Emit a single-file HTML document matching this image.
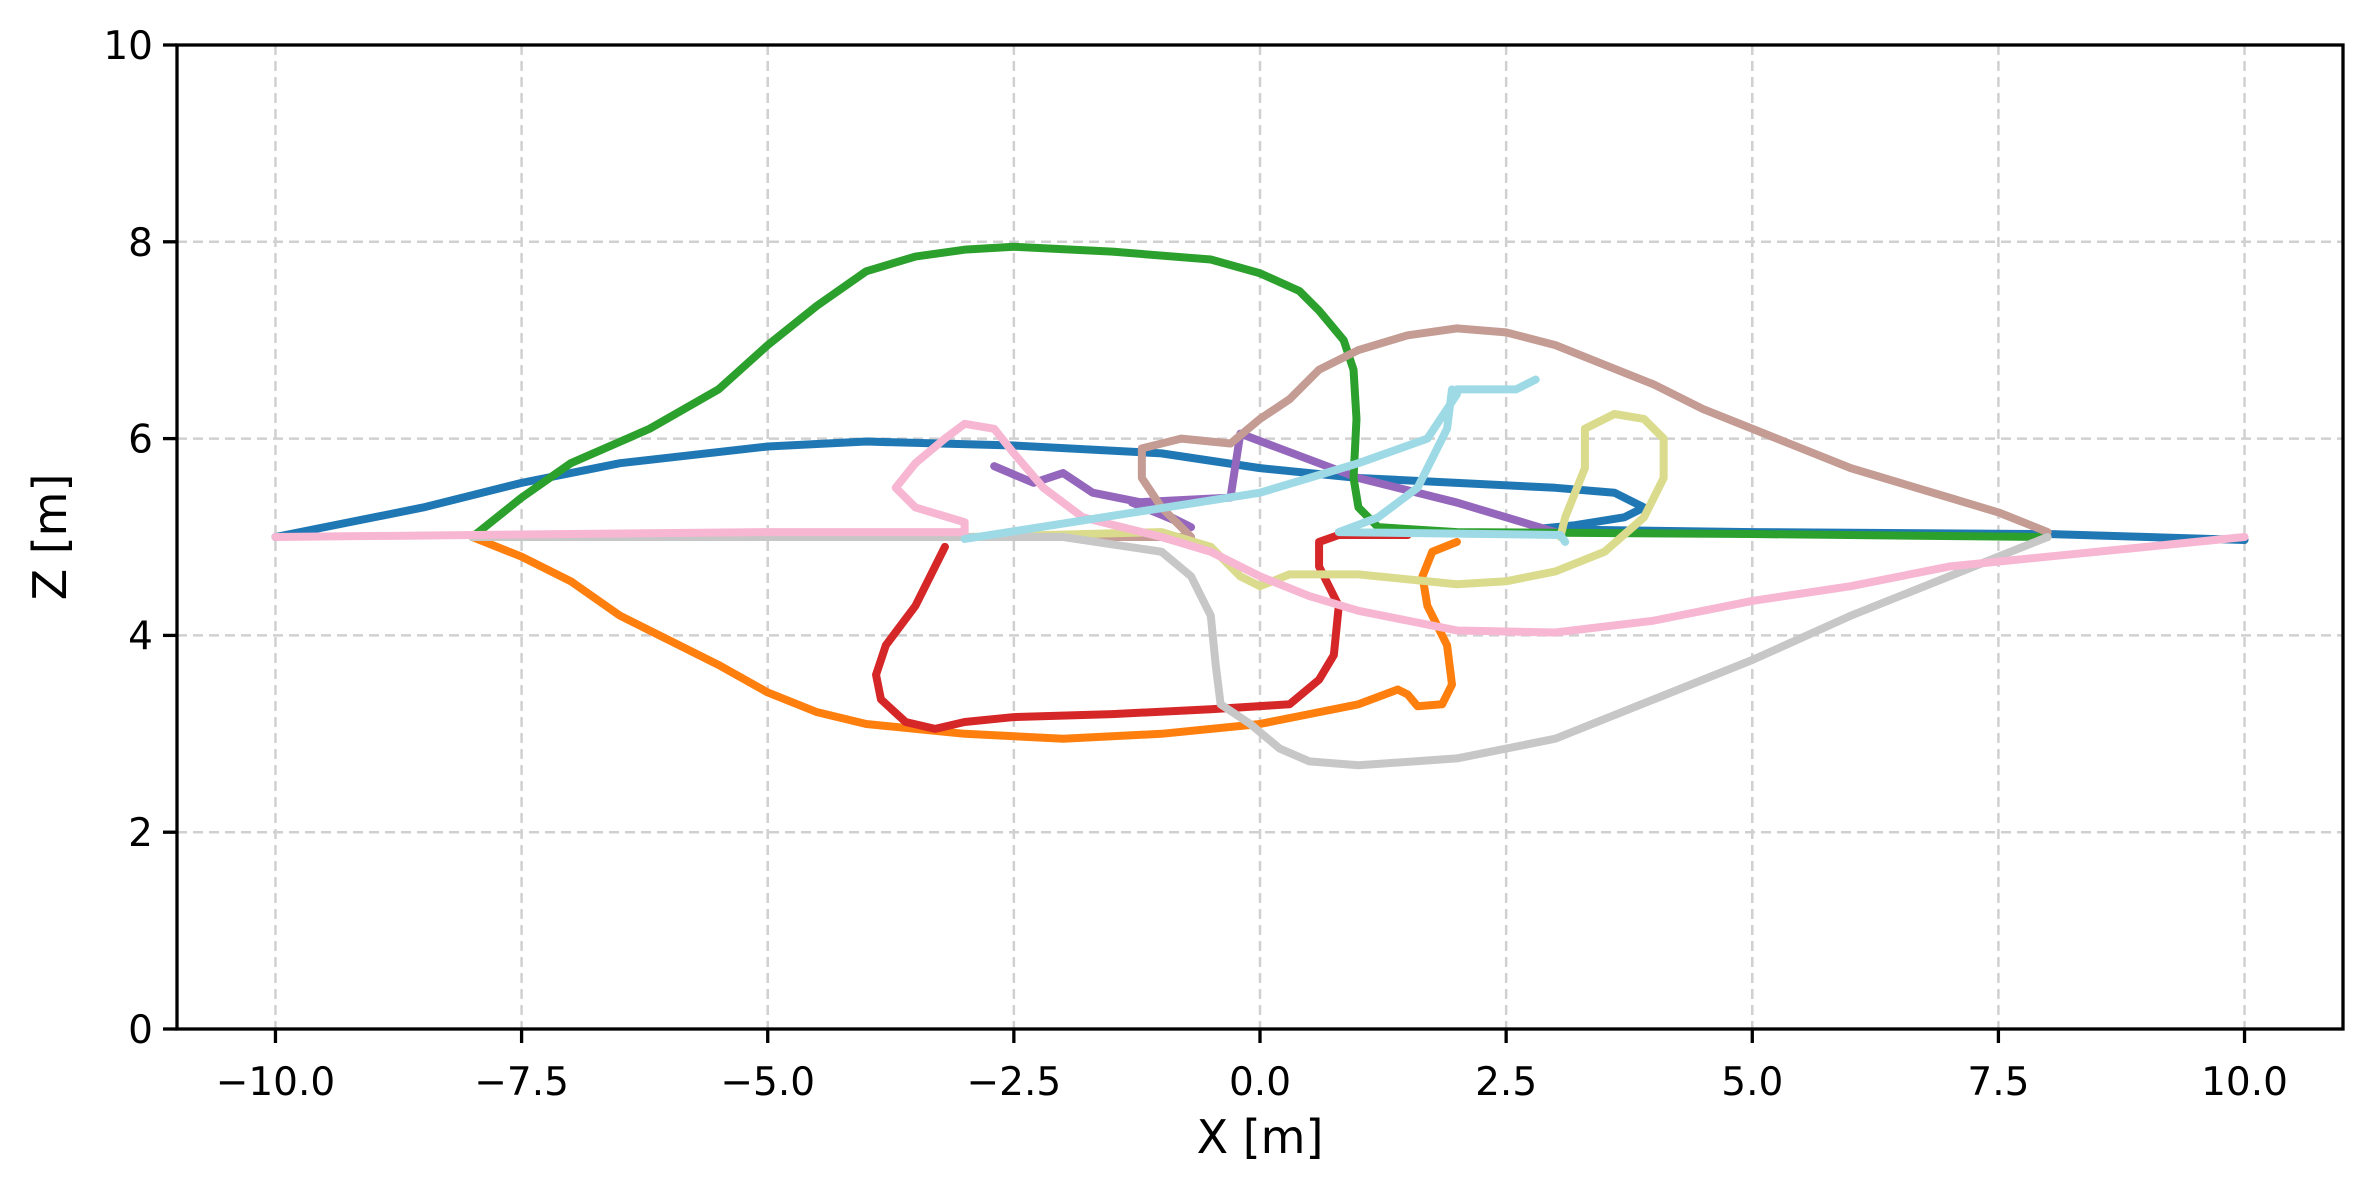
<!DOCTYPE html>
<html><head><meta charset="utf-8"><style>
body{margin:0;background:#fff}
svg{display:block;font-family:"DejaVu Sans","Liberation Sans",sans-serif}
</style></head><body>
<svg id="chart" width="2372" height="1193" viewBox="0 0 2372 1193" xmlns="http://www.w3.org/2000/svg">
<rect width="2372" height="1193" fill="#fff"/>
<g id="grid"></g>
<g id="series"></g>
<g id="axes"></g>
<text x="1260" y="1153" font-size="46" text-anchor="middle">X [m]</text>
<text x="66" y="537" font-size="46" text-anchor="middle" transform="rotate(-90 66 537)">Z [m]</text>
</svg>
<script>
const xTicks=[-10,-7.5,-5,-2.5,0,2.5,5,7.5,10];
const xTickLabels=["\u221210.0","\u22127.5","\u22125.0","\u22122.5","0.0","2.5","5.0","7.5","10.0"];
const yTicks=[0,2,4,6,8,10];
const yTickLabels=["0","2","4","6","8","10"];
const blueX=[-10,-8.5,-7.5,-6.5,-5,-4,-2.5,-1,0,1,2,3,3.6,3.9,3.7,3.2,2.8,5,8,10];
const blueZ=[5.0,5.3,5.55,5.75,5.92,5.97,5.93,5.85,5.7,5.6,5.55,5.5,5.45,5.3,5.2,5.12,5.08,5.05,5.03,4.97];
const greenX=[-8,-7.5,-7,-6.2,-5.5,-5,-4.5,-4,-3.5,-3,-2.5,-1.5,-0.5,0,0.4,0.6,0.85,0.95,0.98,0.95,1.0,1.2,2,5,8];
const greenZ=[5.0,5.4,5.75,6.1,6.5,6.95,7.35,7.7,7.85,7.92,7.95,7.9,7.82,7.68,7.5,7.3,7.0,6.7,6.2,5.6,5.3,5.1,5.05,5.03,5.0];
const orangeX=[-8,-7.5,-7,-6.5,-6,-5.5,-5,-4.5,-4,-3,-2,-1,0,0.5,1,1.4,1.5,1.6,1.85,1.95,1.9,1.7,1.65,1.75,2.0];
const orangeZ=[5.0,4.8,4.55,4.2,3.95,3.7,3.42,3.22,3.1,3.0,2.95,3.0,3.1,3.2,3.3,3.45,3.4,3.28,3.3,3.5,3.9,4.3,4.6,4.85,4.95];
const redX=[-3.2,-3.5,-3.8,-3.9,-3.85,-3.6,-3.3,-3.0,-2.5,-1.5,-0.5,0.3,0.6,0.75,0.8,0.6,0.6,0.8,1.5];
const redZ=[4.9,4.3,3.9,3.6,3.35,3.12,3.05,3.12,3.17,3.2,3.25,3.3,3.55,3.8,4.3,4.7,4.95,5.02,5.02];
const purpleX=[-2.7,-2.3,-2.0,-1.7,-1.2,-0.7,-1.3,-0.3,-0.2,0.2,1,2,3];
const purpleZ=[5.72,5.55,5.65,5.45,5.35,5.1,5.35,5.4,6.05,5.9,5.6,5.35,5.05];
const brownX=[-3,-0.7,-1.0,-1.2,-1.2,-0.8,-0.3,0,0.3,0.6,1.0,1.5,2,2.5,3,3.5,4,4.5,5,5.5,6,6.5,7,7.5,8];
const brownZ=[5.0,5.0,5.3,5.6,5.9,6.0,5.95,6.2,6.4,6.7,6.9,7.05,7.12,7.08,6.95,6.75,6.55,6.3,6.1,5.9,5.7,5.55,5.4,5.25,5.05];
const oliveX=[-3,-1,-0.5,-0.2,0,0.3,1,2,2.5,3,3.5,3.9,4.1,4.1,3.9,3.6,3.3,3.3,3.1,3.05];
const oliveZ=[5.0,5.05,4.9,4.6,4.5,4.62,4.62,4.52,4.55,4.65,4.85,5.2,5.6,6.0,6.2,6.25,6.1,5.7,5.2,5.0];
const pinkX=[-10,-5,-3,-3,-3.5,-3.7,-3.5,-3.2,-3,-2.7,-2.5,-2.2,-1.8,-1,-0.5,0,0.5,1,1.5,2,3,4,5,6,7,8,9,10];
const pinkZ=[5.0,5.05,5.05,5.15,5.3,5.5,5.75,6.0,6.15,6.1,5.85,5.5,5.2,5.0,4.85,4.6,4.4,4.25,4.15,4.05,4.03,4.15,4.35,4.5,4.7,4.8,4.9,5.0];
const grayX=[-8,-5,-2,-1,-0.7,-0.5,-0.45,-0.4,-0.1,0.2,0.5,1,2,3,4,5,6,7,8];
const grayZ=[5.0,5.0,5.0,4.85,4.6,4.2,3.7,3.3,3.1,2.85,2.72,2.68,2.75,2.95,3.35,3.75,4.2,4.6,5.0];
const cyanX=[-3,0,1,1.7,2.0,2.0,2.6,2.8];
const cyanZ=[4.98,5.45,5.75,6.0,6.45,6.5,6.5,6.6];
const cyan2X=[3.1,3.05,0.8,1.2,1.6,1.9,1.95];
const cyan2Z=[4.95,5.02,5.05,5.2,5.5,6.1,6.5];

const L=177,R=2343,T=45,B=1029,xmin=-11,xmax=11,ymin=0,ymax=10;
const sx=v=>L+(v-xmin)/(xmax-xmin)*(R-L);
const sy=v=>B-(v-ymin)/(ymax-ymin)*(B-T);
const NS="http://www.w3.org/2000/svg";
function mk(tag,attrs,parent){const e=document.createElementNS(NS,tag);for(const k in attrs)e.setAttribute(k,attrs[k]);parent.appendChild(e);return e;}
const grid=document.getElementById('grid'),axes=document.getElementById('axes'),ser=document.getElementById('series');
xTicks.forEach((v,i)=>{
  const g=mk('line',{x1:sx(v),x2:sx(v),y1:T,y2:B,stroke:'#d0d0d0','stroke-width':2.5,'stroke-dasharray':'10 6'},grid);
  
  
  const t=mk('line',{x1:sx(v),x2:sx(v),y1:B,y2:B+14,stroke:'#000','stroke-width':3.3},axes);
  
  
  const l=mk('text',{x:sx(v),y:B+66,'font-size':39,'text-anchor':'middle'},axes);
  l.textContent=xTickLabels[i];
  
  
});
yTicks.forEach((v,i)=>{
  if(v>0&&v<10){const g=mk('line',{x1:L,x2:R,y1:sy(v),y2:sy(v),stroke:'#d0d0d0','stroke-width':2.5,'stroke-dasharray':'10 6'},grid);
  
  }
  const t=mk('line',{x1:L-14,x2:L,y1:sy(v),y2:sy(v),stroke:'#000','stroke-width':3.3},axes);
  
  
  const l=mk('text',{x:L-24,y:sy(v)+14,'font-size':39,'text-anchor':'end'},axes);
  l.textContent=yTickLabels[i];
  
  
});
const fr=mk('rect',{x:L,y:T,width:R-L,height:B-T,fill:'none',stroke:'#000','stroke-width':3.3},axes);


const series=[[blueX,blueZ,'#1f77b4','trajectory-blue'],[orangeX,orangeZ,'#ff7f0e','trajectory-orange'],[redX,redZ,'#d62728','trajectory-red'],[purpleX,purpleZ,'#9467bd','trajectory-purple'],[greenX,greenZ,'#2ca02c','trajectory-green'],[brownX,brownZ,'#c49c94','trajectory-brown'],[oliveX,oliveZ,'#dbdb8d','trajectory-olive'],[grayX,grayZ,'#c7c7c7','trajectory-gray'],[pinkX,pinkZ,'#f7b6d2','trajectory-pink'],[cyanX,cyanZ,'#9edae5','trajectory-cyan'],[cyan2X,cyan2Z,'#9edae5','trajectory-cyan-2']];
series.forEach(([xs,zs,c,n])=>{
  const p=mk('polyline',{points:xs.map((x,i)=>sx(x)+','+sy(zs[i])).join(' '),fill:'none',stroke:c,'stroke-width':8,'stroke-linejoin':'round','stroke-linecap':'round'},ser);
  
  
});
</script>
</body></html>
